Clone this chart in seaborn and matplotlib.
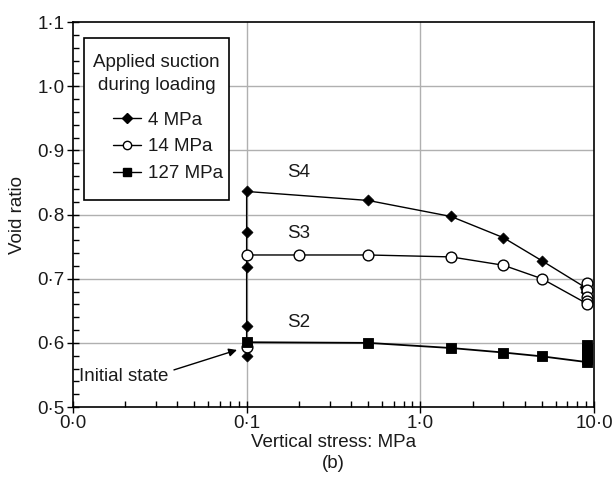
import matplotlib
matplotlib.use("Agg")
import matplotlib.pyplot as plt
import matplotlib.ticker as mticker
from matplotlib.lines import Line2D
from matplotlib.patches import Rectangle
import seaborn as sns
import pandas as pd

sns.set_theme(style="white")
plt.rcParams['font.family'] = ['Liberation Sans', 'DejaVu Sans']

# 4 MPa (diamonds)
s4_stress = [0.1, 0.1, 0.1, 0.1, 0.1, 0.5, 1.5, 3.0, 5.0, 8.8, 9.0, 9.0]
s4_void = [0.580, 0.626, 0.718, 0.773, 0.836, 0.822, 0.797, 0.764, 0.728, 0.687, 0.684, 0.680]
# 14 MPa (open circles)
s3_stress = [0.1, 0.1, 0.2, 0.5, 1.5, 3.0, 5.0, 9.1, 9.1, 9.1, 9.1, 9.1]
s3_void = [0.594, 0.737, 0.737, 0.737, 0.734, 0.721, 0.700, 0.693, 0.682, 0.672, 0.665, 0.661]
# 127 MPa (squares)
s2_stress = [0.1, 0.5, 1.5, 3.0, 5.0, 9.1, 9.1, 9.1, 9.1, 9.1]
s2_void = [0.601, 0.600, 0.592, 0.585, 0.579, 0.597, 0.590, 0.582, 0.575, 0.570]

legend_title = ["Applied suction", "during loading"]
legend_labels = ["4 MPa", "14 MPa", "127 MPa"]
x_ticks = [0.01, 0.1, 1.0, 10.0]
x_ticklabels = ["0·0", "0·1", "1·0", "10·0"]
y_ticks = [0.5, 0.6, 0.7, 0.8, 0.9, 1.0, 1.1]
y_ticklabels = ["0·5", "0·6", "0·7", "0·8", "0·9", "1·0", "1·1"]

FS = 13.5
TXT = "#1a1a1a"

fig = plt.figure(figsize=(6.12, 4.8), dpi=100)
ax = fig.add_axes([0.119, 0.152, 0.852, 0.802])
ax.set_xscale("log")

for xv in [0.1, 1.0]:
    ax.axvline(xv, color="#b0b0b0", lw=1.0, zorder=0)
for yv in [0.6, 0.7, 0.8, 0.9, 1.0]:
    ax.axhline(yv, color="#b0b0b0", lw=1.0, zorder=0)

df4 = pd.DataFrame({"x": s4_stress, "y": s4_void})
df3 = pd.DataFrame({"x": s3_stress, "y": s3_void})
df2 = pd.DataFrame({"x": s2_stress, "y": s2_void})

sns.lineplot(data=df4.iloc[:10], x="x", y="y", sort=False, estimator=None, color="black", lw=1.0, ax=ax, zorder=2)
sns.scatterplot(data=df4, x="x", y="y", marker="D", s=32, color="black", edgecolor="black", ax=ax, zorder=4)

sns.lineplot(data=df3.iloc[1:7], x="x", y="y", sort=False, estimator=None, color="black", lw=1.0, ax=ax, zorder=2)
sns.lineplot(data=pd.DataFrame({"x": [s3_stress[6], s3_stress[-1]], "y": [s3_void[6], s3_void[-1]]}),
             x="x", y="y", sort=False, estimator=None, color="black", lw=1.0, ax=ax, zorder=2)
sns.scatterplot(data=df3, x="x", y="y", marker="o", s=60, color="white", edgecolor="black", linewidth=1.0, ax=ax, zorder=5)

sns.lineplot(data=pd.DataFrame({"x": s2_stress[:5] + [s2_stress[-1]], "y": s2_void[:5] + [s2_void[-1]]}),
             x="x", y="y", sort=False, estimator=None, color="black", lw=1.3, ax=ax, zorder=2)
sns.scatterplot(data=df2, x="x", y="y", marker="s", s=60, color="black", edgecolor="black", ax=ax, zorder=6)

ax.set_xlim(0.01, 10.0)
ax.set_ylim(0.5, 1.1)
ax.set_xticks(x_ticks)
ax.set_xticklabels(x_ticklabels)
ax.xaxis.set_minor_locator(mticker.LogLocator(base=10, subs=range(2, 10)))
ax.xaxis.set_minor_formatter(mticker.NullFormatter())
ax.set_yticks(y_ticks)
ax.set_yticklabels(y_ticklabels)
ax.yaxis.set_minor_locator(mticker.MultipleLocator(0.02))

ax.tick_params(axis="both", which="major", direction="inout", length=8, width=1, color="black",
               labelsize=FS, labelcolor=TXT, pad=2, bottom=True, left=True)
ax.tick_params(axis="both", which="minor", direction="in", length=4, width=1, color="black",
               bottom=True, left=True)

for sp in ax.spines.values():
    sp.set_color("black")
    sp.set_linewidth(1.2)

ax.set_xlabel("Vertical stress: MPa\n(b)", fontsize=FS, color=TXT, linespacing=1.35, labelpad=1)
ax.set_ylabel("Void ratio", fontsize=FS, color=TXT, labelpad=8)

ax.text(0.2, 0.865, "S4", fontsize=FS, ha="center", va="center", color=TXT)
ax.text(0.2, 0.770, "S3", fontsize=FS, ha="center", va="center", color=TXT)
ax.text(0.2, 0.631, "S2", fontsize=FS, ha="center", va="center", color=TXT)
ax.annotate("Initial state", xy=(0.088, 0.589), xytext=(0.0108, 0.547),
            fontsize=FS, color=TXT, ha="left", va="center",
            arrowprops=dict(arrowstyle="-|>", color="black", lw=1.0, shrinkA=2, shrinkB=0,
                            mutation_scale=12, relpos=(1.0, 0.8)))

# legend box (manual frame + title, entries via legend)
box = Rectangle((0.021, 0.538), 0.278, 0.420, transform=ax.transAxes, facecolor="white",
                edgecolor="black", lw=1.2, zorder=8)
ax.add_patch(box)
ax.text(0.161, (407 - 62) / 385, legend_title[0], transform=ax.transAxes, fontsize=FS,
        ha="center", va="center", color=TXT, zorder=9)
ax.text(0.161, (407 - 85) / 385, legend_title[1], transform=ax.transAxes, fontsize=FS,
        ha="center", va="center", color=TXT, zorder=9)

handles = [
    Line2D([], [], color="black", lw=1.0, marker="D", markersize=5, markerfacecolor="black"),
    Line2D([], [], color="black", lw=1.0, marker="o", markersize=6, markerfacecolor="white", markeredgecolor="black"),
    Line2D([], [], color="black", lw=1.0, marker="s", markersize=5.5, markerfacecolor="black"),
]
leg = ax.legend(handles, legend_labels, loc="upper left", bbox_to_anchor=(0.077, 0.768),
                fontsize=FS, frameon=False, handlelength=1.5, handletextpad=0.35,
                borderpad=0.0, labelspacing=0.52, borderaxespad=0.0)
leg.set_zorder(10)
for t in leg.get_texts():
    t.set_color(TXT)

fig.savefig("out.png", dpi=100)
